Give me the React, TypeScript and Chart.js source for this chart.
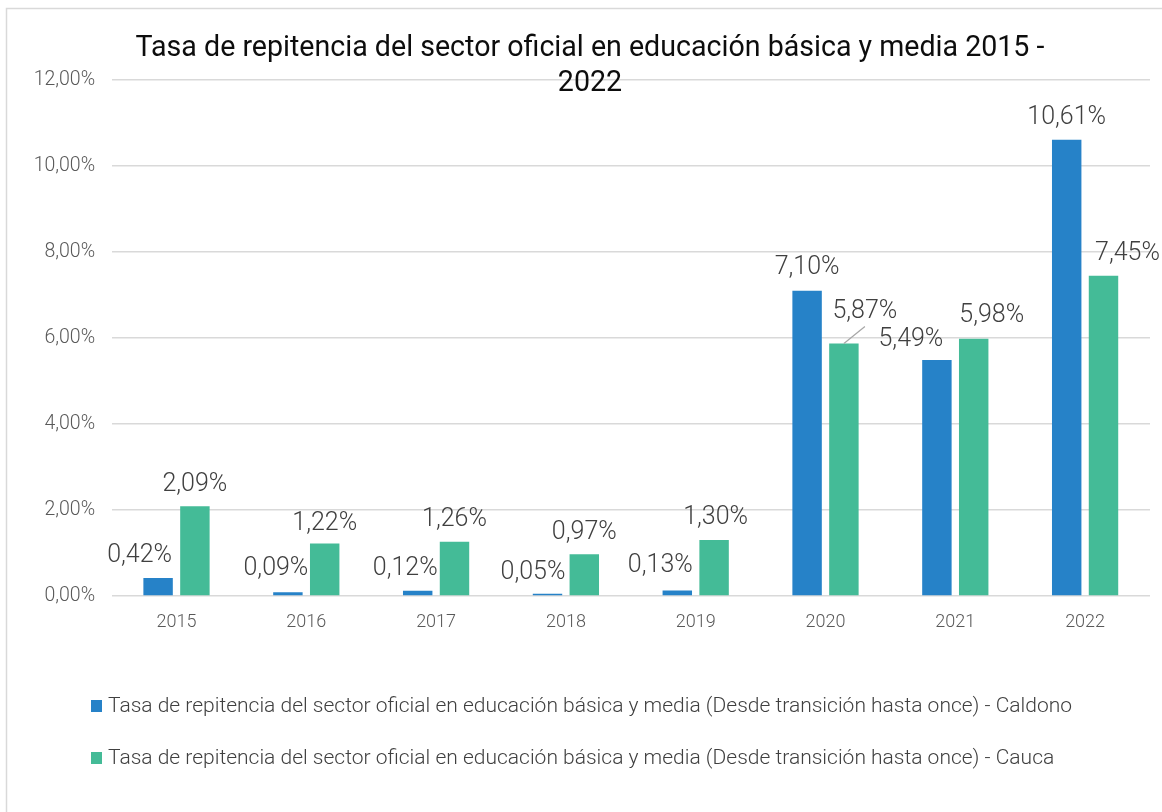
import { useEffect, useRef } from 'react';
import { Chart, registerables } from 'chart.js';

Chart.register(...registerables);

// ---------- data ----------
const years = ['2015', '2016', '2017', '2018', '2019', '2020', '2021', '2022'];
const caldono = [0.42, 0.09, 0.12, 0.05, 0.13, 7.1, 5.49, 10.61];
const cauca = [2.09, 1.22, 1.26, 0.97, 1.3, 5.87, 5.98, 7.45];
const yTickValues = [0, 2, 4, 6, 8, 10, 12];
const seriesNames = [
  'Tasa de repitencia del sector oficial en educación básica y media (Desde transición hasta once) - Caldono',
  'Tasa de repitencia del sector oficial en educación básica y media (Desde transición hasta once) - Cauca',
];
const titleLines = ['Tasa de repitencia del sector oficial en educación básica y media 2015 -', '2022'];

// manual nudges of the data labels (px), as moved by hand in the original
const caldonoLabelShift = [[-18.5, 0], [-12, -1], [-12.5, 0], [-14.5, 1], [-17, -2], [0, -1], [-26, 2], [0, 0]];
const caucaLabelShift = [[0, 1], [0, 2], [0, 0], [0, 1], [1.5, 0], [21, -10], [18, -1], [24, 0]];
const caucaLeader = [false, false, false, false, false, true, false, false];

const COLORS = ['#2682C8', '#44BB97'];
const FONT = 'Roboto, "Liberation Sans", Arial, sans-serif';

const fmt = (v: number) => v.toFixed(2).replace('.', ',') + '%';

const decor = {
  id: 'decor',
  beforeDraw(chart: any) {
    const { ctx, width, height } = chart;
    ctx.save();
    ctx.fillStyle = '#ffffff';
    ctx.fillRect(0, 0, width, height);
    ctx.strokeStyle = '#d9d9d9';
    ctx.lineWidth = 1.5;
    ctx.beginPath();
    ctx.moveTo(6.5, height + 2);
    ctx.lineTo(6.5, 8.5);
    ctx.lineTo(width + 2, 8.5);
    ctx.stroke();
    ctx.restore();
  },
  afterDatasetsDraw(chart: any) {
    const { ctx } = chart;
    const shifts = [caldonoLabelShift, caucaLabelShift];
    const leaders = [caldono.map(() => false), caucaLeader];
    ctx.save();
    ctx.font = `300 25px ${FONT}`;
    ctx.fillStyle = '#404040';
    ctx.textAlign = 'center';
    ctx.textBaseline = 'alphabetic';
    chart.data.datasets.forEach((ds: any, i: number) => {
      const meta = chart.getDatasetMeta(i);
      meta.data.forEach((el: any, j: number) => {
        const [dx, dy] = shifts[i][j];
        const cx = el.x + dx;
        const cy = el.y - 25 + dy;
        if (leaders[i][j]) {
          ctx.save();
          ctx.strokeStyle = '#a6a6a6';
          ctx.lineWidth = 1.2;
          ctx.beginPath();
          ctx.moveTo(el.x, el.y);
          ctx.lineTo(cx, cy + 18);
          ctx.stroke();
          ctx.restore();
        }
        ctx.fillText(fmt(ds.data[j]), cx, cy + 9);
      });
    });
    ctx.restore();
  },
  afterDraw(chart: any) {
    const { ctx } = chart;
    ctx.save();
    // title
    ctx.font = `400 28.6px ${FONT}`;
    ctx.fillStyle = '#0d0d0d';
    ctx.textAlign = 'center';
    ctx.textBaseline = 'middle';
    titleLines.forEach((line, i) => ctx.fillText(line, 590, 49 + i * 35));
    // legend
    ctx.font = `300 21px ${FONT}`;
    ctx.textAlign = 'left';
    chart.data.datasets.forEach((ds: any, i: number) => {
      const cy = 706 + i * 52;
      ctx.fillStyle = ds.backgroundColor;
      ctx.fillRect(91, cy - 6, 11, 12);
      ctx.fillStyle = '#404040';
      ctx.fillText(ds.label, 108, cy + 1);
    });
    ctx.restore();
  },
};

export default function App() {
  const ref = useRef<HTMLCanvasElement>(null);
  useEffect(() => {
    if (!ref.current) return;
    Chart.defaults.font.family = FONT;
    const chart = new Chart(ref.current, {
      type: 'bar',
      data: {
        labels: years,
        datasets: [
          { label: seriesNames[0], data: caldono, backgroundColor: COLORS[0], barPercentage: 0.8, categoryPercentage: 0.567 },
          { label: seriesNames[1], data: cauca, backgroundColor: COLORS[1], barPercentage: 0.8, categoryPercentage: 0.567 },
        ],
      },
      options: {
        responsive: false,
        animation: false,
        devicePixelRatio: 1,
        layout: { padding: { top: 80, right: 12, bottom: 176, left: 0 } },
        plugins: { legend: { display: false }, title: { display: false }, tooltip: { enabled: false } },
        scales: {
          x: {
            grid: { display: false },
            border: { display: false },
            ticks: { color: '#595959', font: { size: 18, weight: 300 }, padding: 8 },
            afterFit: (s: any) => { s.height = 40; },
          },
          y: {
            min: 0,
            max: 12,
            afterBuildTicks: (s: any) => { s.ticks = yTickValues.map((v) => ({ value: v })); },
            grid: { color: '#d9d9d9', lineWidth: 1.5, drawTicks: false },
            border: { display: false },
            ticks: { color: '#595959', font: { size: 19.5, weight: 300 }, padding: 16.5, callback: (v: any) => fmt(Number(v)) },
            afterFit: (s: any) => { s.width = 111.6; },
          },
        },
      },
      plugins: [decor],
    });
    return () => chart.destroy();
  }, []);
  return (
    <div style={{ position: 'absolute', left: 0, top: 0, width: 1162, height: 812 }}>
      <canvas ref={ref} width={1162} height={812} style={{ width: 1162, height: 812, display: 'block' }} />
    </div>
  );
}
